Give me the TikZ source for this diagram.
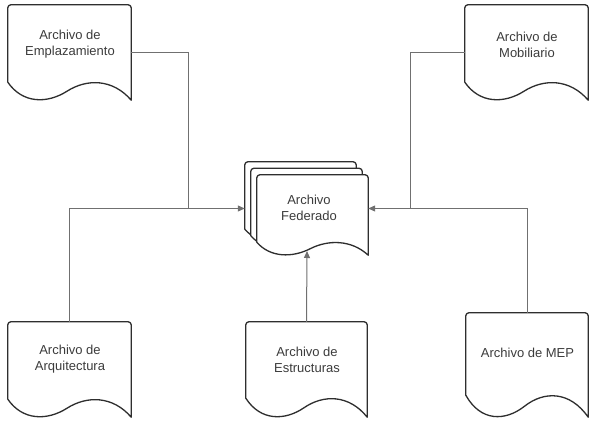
\documentclass[tikz,border=0pt]{standalone}
\usepackage{fontspec}
\setmainfont{Liberation Sans}
\usetikzlibrary{calc,arrows.meta}
\definecolor{txtc}{HTML}{3C3C3C}
\definecolor{outlc}{HTML}{2E2E2E}
\definecolor{connc}{HTML}{707070}
\tikzset{
  docbox/.style={rectangle, draw=none, inner sep=0pt},
  docline/.style={draw=outlc, line width=1.3pt, fill=white, line join=round},
  doctext/.style={align=center, text=txtc, inner sep=0pt, font=\fontsize{13pt}{16pt}\selectfont},
  connline/.style={draw=connc, line width=1pt},
  arr/.style={-{Triangle[length=7pt,width=6pt]}}
}
\newcommand{\drawdoc}[2]{%
 \draw[docline] let \p1=(#1.south west), \p2=(#1.north east), \p3=($(#1.south east)-(#1.south west)$) in
 (\x2,\y1) -- (\x2,\y2-3pt) .. controls (\x2,\y2-1.34pt) and (\x2-1.34pt,\y2) .. (\x2-3pt,\y2)
 -- (\x1+3pt,\y2) .. controls (\x1+1.34pt,\y2) and (\x1,\y2-1.34pt) .. (\x1,\y2-3pt)
 -- (\x1,\y1+#2)
 .. controls (\x1+0.12*\x3,\y1-0.2*#2) and (\x1+0.32*\x3,\y1-0.2*#2) .. (\x1+0.48*\x3,\y1+0.5*#2)
 .. controls (\x1+0.64*\x3,\y1+1.2*#2) and (\x1+0.85*\x3,\y1+1.2*#2) .. (\x2,\y1) -- cycle;}
\begin{document}
\begin{tikzpicture}[x=1pt,y=-1pt]
\fill[white] (0,0) rectangle (603,422);
\useasboundingbox (0,0) rectangle (603,422);
% documents
\node[docbox, minimum width=123pt, minimum height=95pt] (emp) at (69.5,52.5) {};
\node[docbox, minimum width=123pt, minimum height=95pt] (mob) at (526.5,52.5) {};
\node[docbox, minimum width=123pt, minimum height=95pt] (arq) at (69.5,369.5) {};
\node[docbox, minimum width=121pt, minimum height=95pt] (est) at (306.5,369.5) {};
\node[docbox, minimum width=122pt, minimum height=104pt] (mep) at (527,365) {};
\node[docbox, minimum width=111pt, minimum height=80pt] (fedc) at (300.5,202) {};
\node[docbox, minimum width=111pt, minimum height=80pt] (fedb) at (306.5,208.5) {};
\node[docbox, minimum width=111pt, minimum height=80pt] (feda) at (312.5,215) {};
\node[docbox, minimum width=123pt, minimum height=93pt] (fed) at (306.5,208.5) {};
\drawdoc{emp}{18pt}
\drawdoc{mob}{18pt}
\drawdoc{arq}{18pt}
\drawdoc{est}{19pt}
\drawdoc{mep}{22pt}
\drawdoc{fedc}{13pt}
\drawdoc{fedb}{13pt}
\drawdoc{feda}{13pt}
% texts
\node[doctext] (emp-t) at (70,44.5) {Archivo de\\Emplazamiento};
\node[doctext] (mob-t) at (527,44.5) {Archivo de\\Mobiliario};
\node[doctext] (arq-t) at (70,359.5) {Archivo de\\Arquitectura};
\node[doctext] (est-t) at (307,359.5) {Archivo de\\Estructuras};
\node[doctext] (mep-t) at (527.5,353) {Archivo de MEP};
\node[doctext] (fed-t) at (309,207.5) {Archivo\\Federado};
% connectors
\coordinate (jl) at (188,208.5);
\coordinate (jr) at (410,208.5);
\coordinate (fedbot) at (307,251);
\draw[connline] (emp.east) -| (jl);
\draw[connline,arr] (arq.north) |- (fed.west);
\draw[connline] (mob.west) -| (jr);
\draw[connline,arr] (mep.north) |- (fed.east);
\draw[connline,arr] (est.north) -- (fedbot);
\end{tikzpicture}
\end{document}
